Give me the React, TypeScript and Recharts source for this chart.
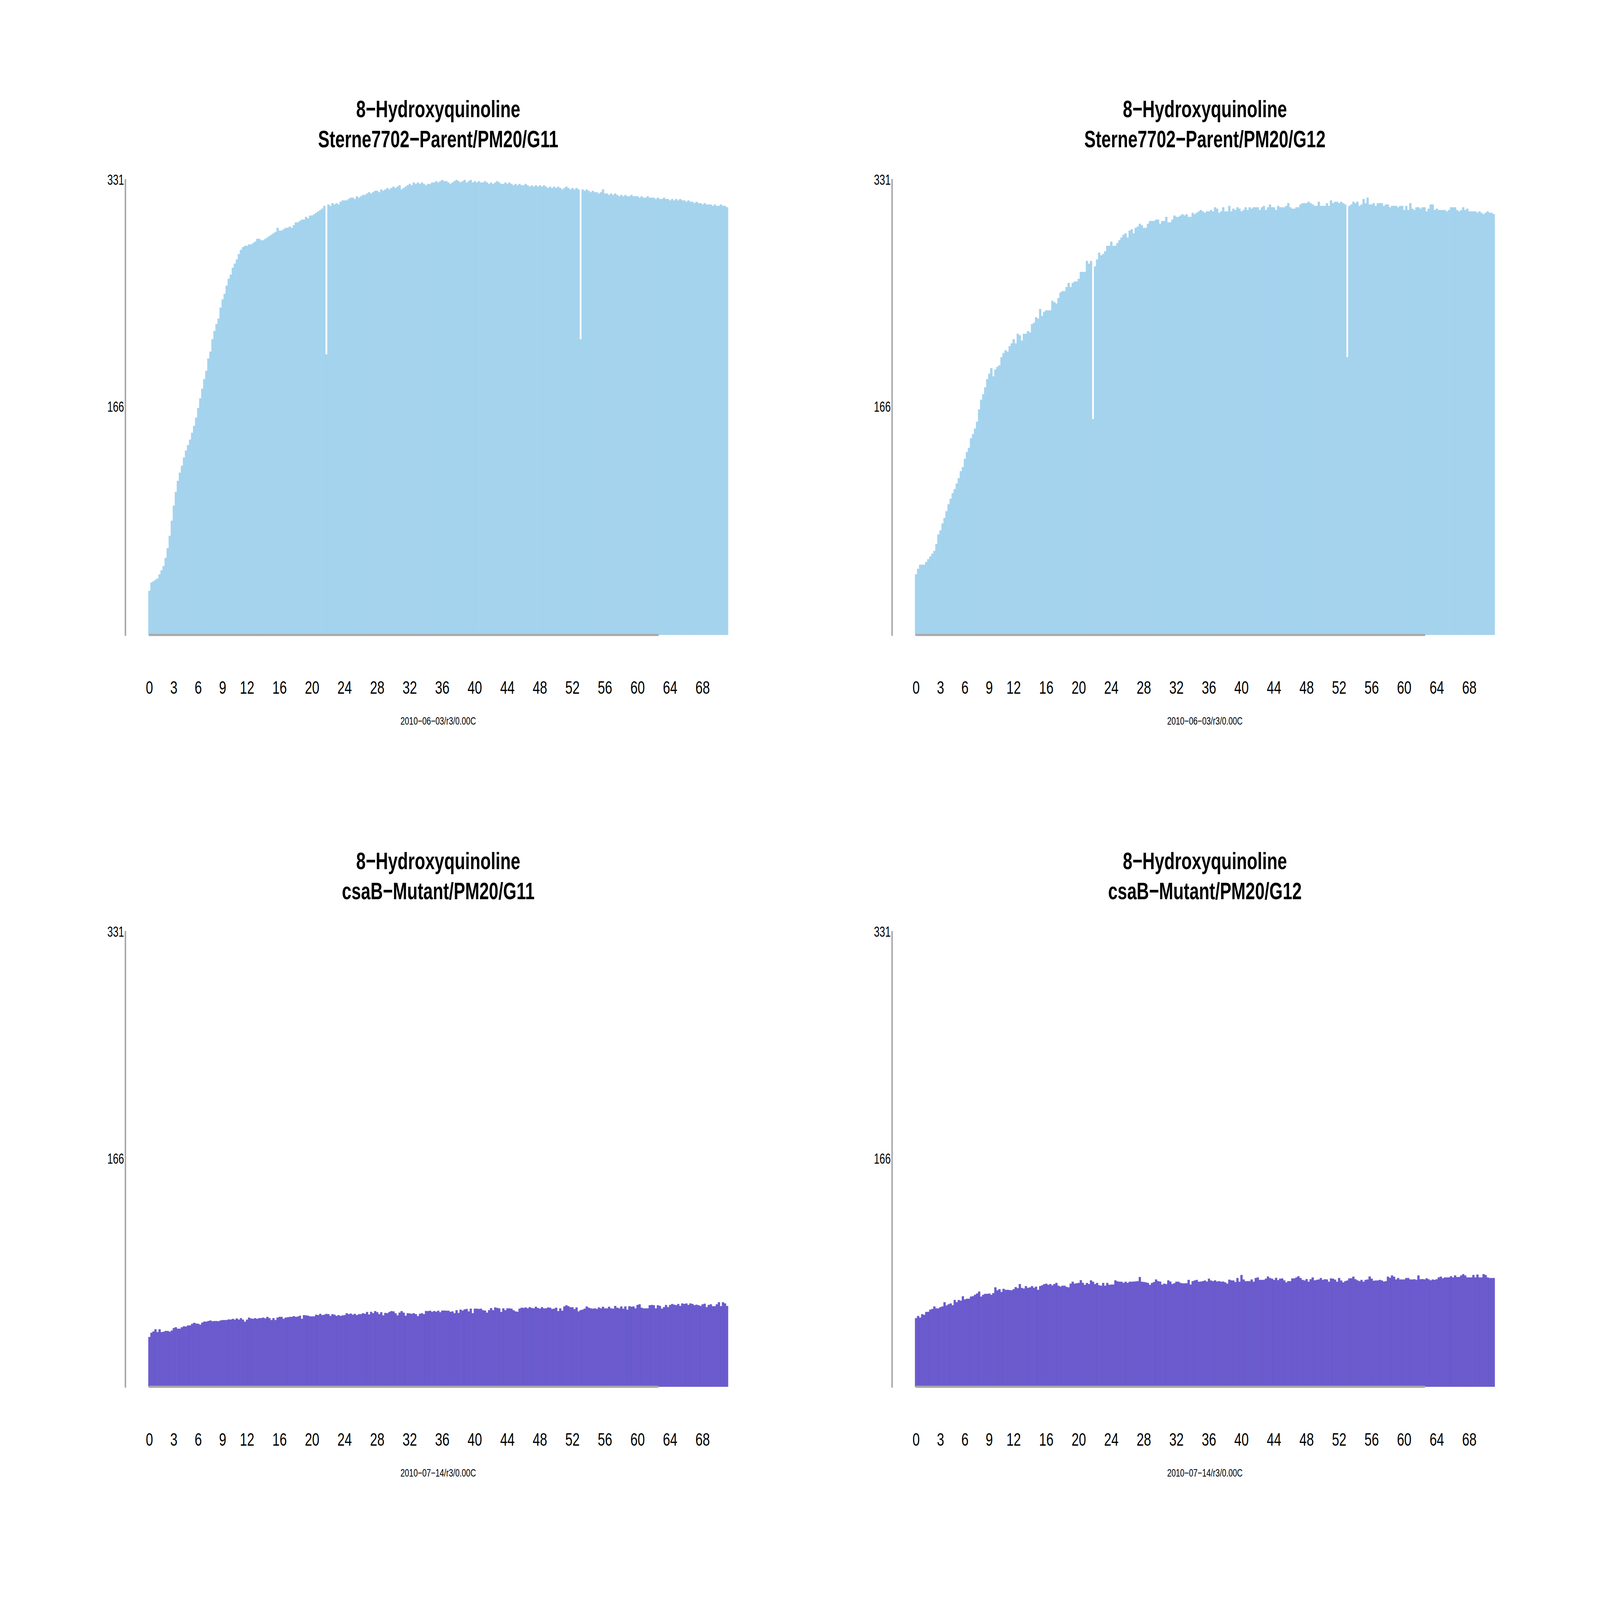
import React from 'react';
import { BarChart, Bar, XAxis, YAxis, ReferenceLine } from 'recharts';

// ---- categories / ticks ----
const HOURS: number[] = Array.from({ length: 285 }, (_, i) => i / 4);
const X_TICKS = [0, 3, 6, 9, 12, 16, 20, 24, 28, 32, 36, 40, 44, 48, 52, 56, 60, 64, 68];
const Y_TICKS = [166, 331];
const Y_MAX = 331;
const AXIS_LINE_END = 62.5;

const COMPOUND = '8−Hydroxyquinoline';
const WELL_LABELS = [
  'Sterne7702−Parent/PM20/G11',
  'Sterne7702−Parent/PM20/G12',
  'csaB−Mutant/PM20/G11',
  'csaB−Mutant/PM20/G12',
];
const RUN_LABELS = [
  '2010−06−03/r3/0.00C',
  '2010−06−03/r3/0.00C',
  '2010−07−14/r3/0.00C',
  '2010−07−14/r3/0.00C',
];

// ---- series values (one per 15 min) ----
const PARENT_G11 = [
  32, 38, 39, 40, 41, 44, 47, 50, 56, 63, 72, 83, 94, 104, 112, 118,
  123, 129, 134, 138, 142, 147, 152, 158, 165, 172, 179, 186, 192, 201, 206, 215,
  221, 226, 230, 238, 244, 248, 254, 259, 262, 267, 270, 273, 277, 280, 282, 283,
  283, 284, 284, 285, 286, 288, 288, 287, 287, 288, 289, 290, 291, 292, 293, 296,
  294, 294, 295, 296, 296, 297, 296, 298, 300, 300, 301, 302, 302, 304, 303, 305,
  305, 306, 307, 308, 309, 310, 312, 204, 313, 312, 314, 313, 314, 313, 315, 316,
  316, 316, 317, 318, 318, 317, 319, 318, 319, 320, 320, 321, 322, 321, 322, 323,
  323, 322, 324, 323, 324, 325, 324, 325, 326, 325, 326, 327, 324, 325, 326, 327,
  328, 327, 329, 328, 329, 328, 329, 328, 327, 328, 328, 329, 329, 330, 329, 330,
  331, 330, 330, 329, 328, 329, 330, 331, 330, 329, 330, 331, 329, 330, 331, 329,
  330, 329, 330, 329, 329, 330, 329, 328, 329, 328, 329, 330, 329, 328, 328, 329,
  328, 329, 328, 327, 328, 327, 328, 327, 327, 328, 327, 326, 327, 326, 327, 326,
  327, 326, 327, 326, 325, 326, 325, 326, 325, 326, 325, 324, 325, 326, 325, 324,
  325, 324, 325, 324, 215, 324, 323, 324, 323, 322, 323, 322, 322, 321, 322, 324,
  321, 321, 320, 321, 320, 321, 320, 319, 320, 319, 320, 319, 319, 320, 319, 319,
  319, 318, 319, 318, 318, 319, 318, 318, 318, 317, 318, 317, 317, 318, 317, 317,
  316, 317, 316, 317, 316, 317, 316, 316, 315, 316, 315, 315, 314, 315, 314, 314,
  313, 314, 313, 313, 313, 312, 313, 312, 312, 313, 312, 312, 311,
];

const PARENT_G12 = [
  44, 48, 51, 51, 51, 53, 55, 57, 59, 61, 66, 73, 76, 81, 85, 90,
  95, 99, 103, 106, 110, 114, 119, 122, 128, 133, 136, 143, 146, 150, 155, 164,
  171, 175, 180, 186, 190, 194, 188, 193, 195, 196, 202, 205, 207, 206, 210, 212,
  215, 212, 219, 218, 214, 219, 219, 221, 220, 226, 227, 231, 230, 237, 232, 235,
  236, 236, 236, 243, 242, 241, 245, 249, 250, 250, 253, 256, 253, 256, 257, 257,
  259, 264, 264, 264, 272, 270, 272, 157, 268, 273, 278, 276, 277, 279, 283, 283,
  286, 283, 283, 285, 287, 289, 291, 292, 289, 294, 295, 292, 296, 297, 299, 298,
  296, 296, 299, 301, 301, 301, 302, 302, 299, 301, 301, 304, 300, 300, 302, 305,
  304, 304, 305, 306, 305, 306, 304, 304, 307, 306, 307, 308, 309, 308, 307, 308,
  308, 309, 308, 311, 310, 307, 308, 311, 308, 308, 312, 308, 310, 309, 311, 310,
  308, 309, 311, 309, 311, 310, 311, 311, 311, 309, 311, 312, 309, 311, 313, 311,
  311, 309, 312, 311, 311, 311, 312, 314, 311, 310, 310, 311, 311, 313, 314, 314,
  314, 315, 314, 313, 312, 312, 315, 312, 312, 312, 314, 312, 316, 314, 315, 315,
  314, 315, 314, 313, 202, 312, 313, 315, 314, 315, 312, 313, 317, 314, 318, 313,
  313, 314, 312, 314, 314, 314, 312, 313, 313, 311, 312, 312, 312, 311, 312, 312,
  309, 312, 309, 314, 310, 309, 311, 311, 310, 311, 311, 308, 310, 313, 313, 309,
  310, 309, 309, 309, 309, 308, 309, 311, 311, 311, 309, 308, 309, 311, 309, 310,
  308, 308, 308, 308, 307, 308, 307, 306, 307, 308, 307, 307, 306,
];

const MUTANT_G11 = [
  36.2, 39.3, 40.2, 41.8, 39.7, 41.8, 39.7, 40.0, 40.6, 40.6,
  40.0, 40.9, 42.7, 43.3, 42.2, 42.2, 43.3, 44.0, 43.8, 44.6,
  44.6, 45.8, 46.5, 46.0, 45.8, 45.2, 46.7, 47.4, 47.3, 47.8,
  48.2, 47.6, 47.8, 47.8, 47.6, 48.2, 48.5, 48.5, 48.5, 49.0,
  48.8, 49.4, 48.8, 49.7, 48.8, 49.9, 48.8, 47.3, 48.8, 50.3,
  49.6, 49.4, 49.9, 49.4, 49.9, 49.9, 50.3, 49.7, 50.8, 49.9,
  48.5, 49.9, 48.5, 50.3, 50.8, 50.8, 49.4, 50.3, 50.5, 50.8,
  50.8, 51.4, 50.8, 51.0, 51.7, 49.4, 52.1, 51.9, 51.7, 51.2,
  51.2, 51.2, 52.4, 52.1, 53.0, 52.1, 52.4, 53.0, 52.8, 51.5,
  52.8, 52.4, 51.5, 52.1, 51.5, 51.9, 52.1, 53.5, 52.8, 53.2,
  52.4, 53.0, 52.1, 52.8, 52.8, 53.5, 53.0, 54.4, 52.6, 54.5,
  53.5, 55.0, 54.2, 52.8, 54.2, 51.9, 53.7, 53.5, 54.4, 55.0,
  54.8, 53.5, 51.9, 53.9, 55.0, 53.9, 51.7, 53.5, 53.3, 53.0,
  53.5, 52.8, 51.4, 53.0, 53.5, 52.8, 55.1, 55.0, 55.3, 54.5,
  55.1, 54.6, 55.3, 54.2, 55.4, 55.4, 55.3, 55.3, 54.5, 54.8,
  53.5, 55.7, 53.7, 56.1, 55.4, 56.3, 56.6, 54.8, 56.8, 53.5,
  56.8, 56.8, 56.6, 56.8, 55.7, 55.4, 53.9, 55.7, 57.2, 55.7,
  57.7, 57.3, 57.0, 54.4, 57.0, 55.7, 57.0, 57.0, 56.8, 55.7,
  54.8, 54.5, 56.8, 57.5, 57.3, 57.7, 57.0, 57.9, 57.3, 57.0,
  58.2, 57.3, 56.8, 57.9, 57.0, 57.0, 57.7, 57.5, 56.6, 56.8,
  57.5, 55.0, 57.0, 55.3, 58.4, 59.3, 58.6, 57.8, 57.8, 56.4,
  57.7, 54.8, 55.7, 56.1, 56.8, 58.4, 57.5, 57.0, 56.8, 57.0,
  56.6, 57.7, 57.0, 58.2, 57.0, 57.0, 58.2, 57.0, 56.8, 58.8,
  57.5, 57.0, 58.4, 56.8, 58.4, 56.1, 58.6, 58.2, 58.4, 57.0,
  59.5, 60.0, 57.5, 57.0, 57.0, 57.0, 59.3, 59.5, 59.3, 57.0,
  59.3, 58.8, 56.8, 57.9, 59.5, 57.9, 59.5, 60.2, 59.7, 59.3,
  60.2, 58.8, 60.6, 60.2, 60.6, 59.5, 60.6, 60.2, 59.3, 59.7,
  59.3, 58.8, 60.0, 60.4, 57.9, 59.5, 60.0, 58.6, 58.6, 60.0,
  61.5, 58.6, 61.5, 60.6, 58.8,
];

const MUTANT_G12 = [
  49.9, 51.5, 50.3, 52.8, 52.3, 54.4, 54.5, 56.1, 56.6, 58.4,
  57.0, 57.0, 57.9, 58.4, 61.5, 59.1, 60.0, 60.6, 59.3, 63.1,
  61.5, 63.1, 62.6, 65.8, 63.5, 64.0, 64.0, 65.6, 65.9, 66.9,
  67.8, 69.2, 65.6, 66.9, 67.6, 67.6, 67.8, 66.9, 68.1, 72.3,
  70.1, 71.0, 68.9, 71.2, 70.5, 70.5, 70.3, 70.1, 71.0, 72.5,
  71.7, 74.7, 71.9, 71.4, 73.2, 71.9, 72.3, 73.2, 72.0, 72.8,
  70.5, 73.2, 73.8, 74.6, 75.0, 74.1, 74.7, 73.7, 74.7, 75.5,
  73.5, 72.8, 73.5, 73.5, 72.6, 72.3, 75.0, 76.4, 75.0, 75.3,
  75.5, 77.5, 75.6, 74.1, 75.5, 74.7, 77.4, 76.4, 74.7, 75.5,
  73.8, 73.5, 75.5, 73.5, 75.5, 74.1, 74.3, 74.3, 77.4, 76.6,
  76.4, 76.4, 75.5, 76.4, 75.5, 76.4, 76.4, 76.5, 76.6, 76.8,
  79.8, 76.4, 76.2, 75.9, 75.5, 74.1, 75.5, 76.2, 78.0, 76.8,
  76.5, 74.3, 75.0, 74.7, 77.4, 76.5, 74.7, 75.3, 76.4, 76.4,
  75.5, 75.2, 75.2, 75.3, 77.7, 74.3, 76.8, 77.3, 77.7, 76.4,
  76.5, 76.8, 77.3, 76.5, 78.6, 77.3, 76.8, 77.4, 76.5, 76.8,
  76.4, 76.5, 75.9, 75.0, 77.9, 77.4, 77.3, 76.2, 79.1, 76.4,
  81.3, 78.0, 76.8, 76.8, 76.8, 78.0, 76.4, 79.1, 79.5, 77.7,
  77.7, 77.7, 78.6, 80.2, 79.1, 78.6, 77.7, 79.2, 77.5, 78.6,
  78.8, 77.4, 75.9, 76.8, 76.8, 78.8, 78.8, 79.5, 80.4, 79.1,
  77.7, 77.3, 78.3, 76.4, 78.2, 79.5, 77.4, 77.7, 78.0, 79.1,
  77.7, 78.2, 78.0, 76.4, 78.8, 78.6, 77.9, 76.4, 79.1, 77.3,
  75.9, 76.8, 77.3, 78.8, 78.9, 80.1, 78.2, 77.4, 76.8, 77.7,
  76.4, 77.7, 78.0, 80.2, 78.6, 77.1, 77.3, 77.3, 77.7, 77.3,
  76.5, 76.8, 80.1, 79.2, 81.0, 80.0, 78.0, 79.1, 78.0, 78.0,
  78.0, 79.1, 79.1, 78.0, 78.0, 78.2, 77.7, 81.0, 78.2, 78.3,
  78.0, 78.9, 78.2, 77.4, 78.0, 77.7, 78.2, 79.5, 80.1, 78.9,
  79.5, 79.5, 79.5, 80.4, 79.5, 81.0, 79.8, 79.8, 80.9, 81.9,
  80.9, 79.5, 79.5, 79.5, 81.3, 79.5, 81.6, 79.5, 79.5, 81.9,
  81.3, 79.5, 79.1, 79.1, 79.1,
];

const SERIES = [PARENT_G11, PARENT_G12, MUTANT_G11, MUTANT_G12];
const COLORS = ['#A4D3EE', '#A4D3EE', '#6A5ACD', '#6A5ACD'];

// ---- layout (pixels, in the 7008 x 4958 design frame) ----
const PAGE_W = 7008;
const PAGE_H = 4958;
const PW = 3358;
const PH = 2330;
const AXIS_X = 549.3;
const BAR_LEFT = 650;
const BAR_RIGHT = 3189;
const PLOT_TOP = 557.4;
const PLOT_BOTTOM = 1967.5;
const YAXIS_W = 300;
const XAXIS_H = 200;
const CENTER_X = (BAR_LEFT + BAR_RIGHT) / 2;
const FONT = "'Liberation Sans', Arial, Helvetica, sans-serif";
const GRAY = '#A9A9A9';

type PanelProps = { values: number[]; color: string; left: number; top: number };

function Panel({ values, color, left, top }: PanelProps) {
  const data = HOURS.map((t, i) => ({ t, v: values[i] }));
  const band = (BAR_RIGHT - BAR_LEFT) / HOURS.length;
  return (
    <div style={{ position: 'absolute', left, top, width: PW, height: PH }}>
      <BarChart
        width={PW}
        height={PH}
        data={data}
        margin={{
          top: PLOT_TOP,
          right: PW - BAR_RIGHT,
          bottom: PH - PLOT_BOTTOM - XAXIS_H,
          left: AXIS_X - YAXIS_W,
        }}
        barCategoryGap={0}
        barGap={0}
      >
        <XAxis
          dataKey="t"
          type="category"
          ticks={X_TICKS}
          interval={0}
          axisLine={false}
          tickLine={false}
          tickSize={0}
          tickMargin={141.5}
          height={XAXIS_H}
          padding={{ left: BAR_LEFT - AXIS_X, right: 0 }}
          tick={{ fontSize: 57, fill: '#000', fontFamily: FONT }}
        />
        <YAxis
          type="number"
          domain={[0, Y_MAX]}
          allowDataOverflow
          ticks={Y_TICKS}
          interval={0}
          width={YAXIS_W}
          tickLine={false}
          tickSize={0}
          tickMargin={6}
          axisLine={{ stroke: GRAY, strokeWidth: 6.7, strokeLinecap: 'round' }}
          tick={{ fontSize: 44, fill: '#000', fontFamily: FONT }}
        />
        <Bar
          dataKey="v"
          fill={color}
          stroke={color}
          strokeWidth={1}
          barSize={band - 0.01}
          isAnimationActive={false}
        />
        <ReferenceLine
          segment={[
            { x: 0, y: 0 },
            { x: AXIS_LINE_END, y: 0 },
          ]}
          stroke={GRAY}
          strokeWidth={6.7}
          strokeLinecap="round"
        />
      </BarChart>
    </div>
  );
}

// The sandbox viewport may be smaller than the 7008 x 4958 design frame;
// stretch the frame so that it fills the whole viewport.
function getScale(): [number, number] {
  if (typeof window === 'undefined') return [1, 1];
  const w = window.innerWidth || PAGE_W;
  const h = window.innerHeight || PAGE_H;
  return [w / PAGE_W, h / PAGE_H];
}

export default function App() {
  const [sx, sy] = getScale();
  const positions = [
    [0, 0],
    [PW, 0],
    [0, PH],
    [PW, PH],
  ];
  return (
    <div
      style={{
        position: 'absolute',
        left: 0,
        top: 0,
        width: PAGE_W * sx,
        height: PAGE_H * sy,
        overflow: 'hidden',
        background: '#fff',
      }}
    >
      <div
        style={{
          position: 'absolute',
          left: 0,
          top: 0,
          width: PAGE_W,
          height: PAGE_H,
          background: '#fff',
          transform: `scale(${sx}, ${sy})`,
          transformOrigin: '0 0',
        }}
      >
        <svg
          width={PAGE_W}
          height={PAGE_H}
          style={{ position: 'absolute', left: 0, top: 0 }}
        >
          {positions.map(([l, t], k) => (
            <g key={k} fontFamily={FONT} fill="#000" textAnchor="middle">
              <text x={l + CENTER_X} y={t + 362.7} fontSize={75} fontWeight="bold">
                {COMPOUND}
              </text>
              <text x={l + CENTER_X} y={t + 456.7} fontSize={75} fontWeight="bold">
                {WELL_LABELS[k]}
              </text>
              <text x={l + CENTER_X} y={t + 2246} fontSize={34}>
                {RUN_LABELS[k]}
              </text>
            </g>
          ))}
        </svg>
        {positions.map(([l, t], k) => (
          <Panel key={k} values={SERIES[k]} color={COLORS[k]} left={l} top={t} />
        ))}
      </div>
    </div>
  );
}
